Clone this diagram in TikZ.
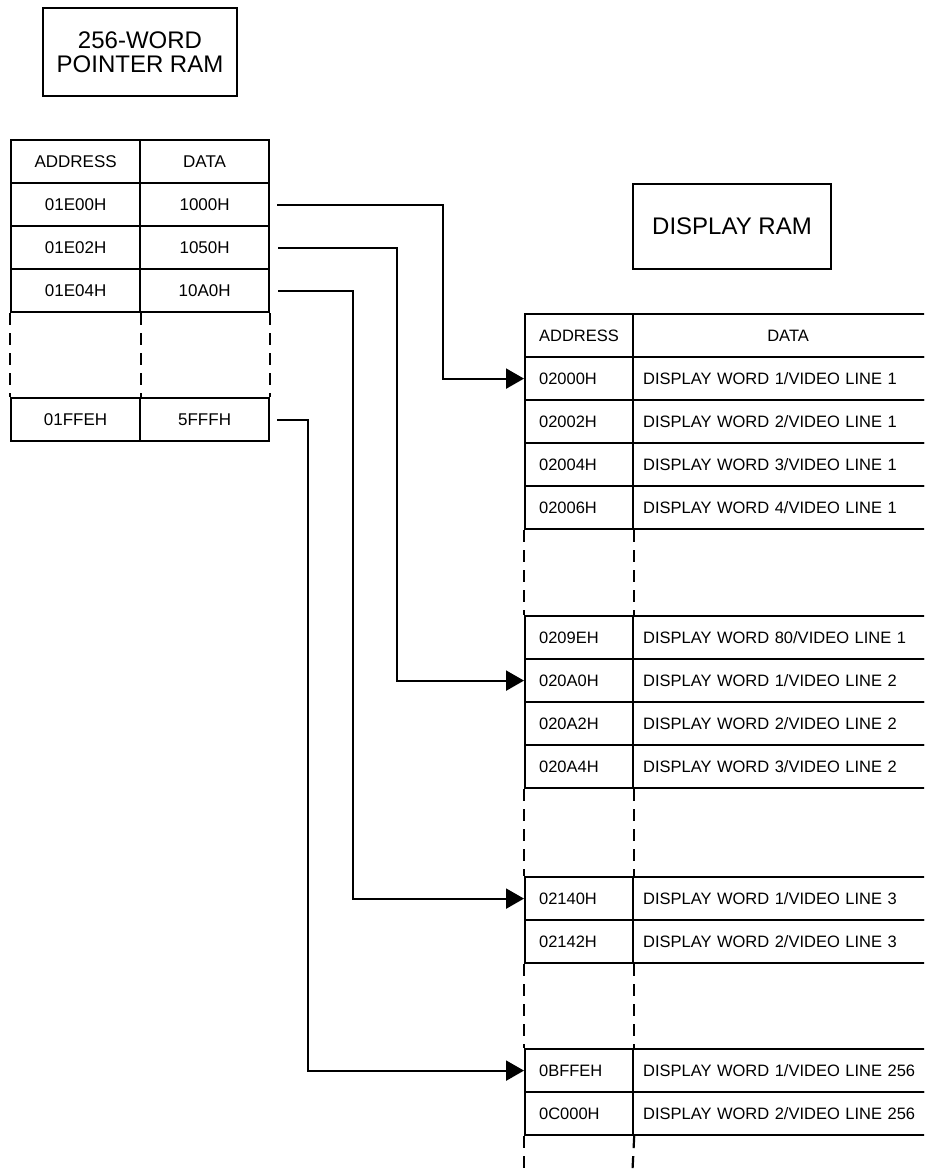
\documentclass[tikz,border=0pt]{standalone}
\usepackage{fontspec}
\setmainfont{Liberation Sans}
\usetikzlibrary{arrows.meta}
\begin{document}
\begin{tikzpicture}[x=1pt,y=-1pt,
  box/.style={draw, line width=2.2pt, inner sep=0pt},
  title/.style={box, align=center, font=\fontsize{24}{24}\selectfont},
  lcell/.style={box, anchor=north west, minimum width=129pt, minimum height=43pt, font=\fontsize{17}{18}\selectfont},
  acell/.style={box, anchor=north west, minimum height=43pt, inner xsep=14pt, text width=80pt, align=left, font=\fontsize{16.5}{18}\selectfont},
  dcell/.style={box, anchor=north west, minimum height=43pt, inner xsep=10pt, text width=300pt, align=left, font=\fontsize{16.5}{18}\selectfont},
  dhead/.style={box, anchor=north west, minimum height=43pt, inner xsep=10pt, text width=290pt, align=center, font=\fontsize{16.5}{18}\selectfont},
  gap/.style={line width=2.2pt, dash pattern=on 12pt off 8pt},
  conn/.style={line width=2.2pt, -{Triangle[length=18pt,width=20pt]}}
]
\useasboundingbox (0,0) rectangle (924,1173);
\clip (0,0) rectangle (924,1173);

% titles
\node[title, minimum width=194pt, minimum height=88pt] (t1) at (140,52) {256-WORD\\POINTER RAM};
\node[title, minimum width=198pt, minimum height=85pt] (t2) at (732,226.5) {DISPLAY RAM};

% pointer RAM table
\node[lcell] (L0a) at (10,139) {ADDRESS};
\node[lcell] (L0d) at (139,139) {DATA};
\node[lcell] (L1a) at (10,182) {01E00H};
\node[lcell] (L1d) at (139,182) {1000H};
\node[lcell] (L2a) at (10,225) {01E02H};
\node[lcell] (L2d) at (139,225) {1050H};
\node[lcell] (L3a) at (10,268) {01E04H};
\node[lcell] (L3d) at (139,268) {10A0H};
\node[lcell] (L4a) at (10,397) {01FFEH};
\node[lcell] (L4d) at (139,397) {5FFFH};
\draw[gap] (L3a.south west) -- (L4a.north west);
\draw[gap] (L3a.south east) -- (L4a.north east);
\draw[gap] (L3d.south east) -- (L4d.north east);

% display RAM table
\node[acell] (R0a) at (524,313) {ADDRESS};
\node[dhead] (R0d) at (632,313) {DATA};
\node[acell] (R1a) at (524,356) {02000H};
\node[dcell] (R1d) at (632,356) {DISPLAY WORD 1/VIDEO LINE 1};
\node[acell] (R2a) at (524,399) {02002H};
\node[dcell] (R2d) at (632,399) {DISPLAY WORD 2/VIDEO LINE 1};
\node[acell] (R3a) at (524,442) {02004H};
\node[dcell] (R3d) at (632,442) {DISPLAY WORD 3/VIDEO LINE 1};
\node[acell] (R4a) at (524,485) {02006H};
\node[dcell] (R4d) at (632,485) {DISPLAY WORD 4/VIDEO LINE 1};

\node[acell] (R5a) at (524,615) {0209EH};
\node[dcell] (R5d) at (632,615) {DISPLAY WORD 80/VIDEO LINE 1};
\node[acell] (R6a) at (524,658) {020A0H};
\node[dcell] (R6d) at (632,658) {DISPLAY WORD 1/VIDEO LINE 2};
\node[acell] (R7a) at (524,701) {020A2H};
\node[dcell] (R7d) at (632,701) {DISPLAY WORD 2/VIDEO LINE 2};
\node[acell] (R8a) at (524,744) {020A4H};
\node[dcell] (R8d) at (632,744) {DISPLAY WORD 3/VIDEO LINE 2};

\node[acell] (R9a) at (524,876) {02140H};
\node[dcell] (R9d) at (632,876) {DISPLAY WORD 1/VIDEO LINE 3};
\node[acell] (R10a) at (524,919) {02142H};
\node[dcell] (R10d) at (632,919) {DISPLAY WORD 2/VIDEO LINE 3};

\node[acell] (R11a) at (524,1048) {0BFFEH};
\node[dcell] (R11d) at (632,1048) {DISPLAY WORD 1/VIDEO LINE 256};
\node[acell] (R12a) at (524,1091) {0C000H};
\node[dcell] (R12d) at (632,1091) {DISPLAY WORD 2/VIDEO LINE 256};

\coordinate (endL) at (524,1180);
\coordinate (endR) at (632,1180);

\draw[gap] (R4a.south west) -- (R5a.north west);
\draw[gap] (R4a.south east) -- (R5a.north east);
\draw[gap] (R8a.south west) -- (R9a.north west);
\draw[gap] (R8a.south east) -- (R9a.north east);
\draw[gap] (R10a.south west) -- (R11a.north west);
\draw[gap] (R10a.south east) -- (R11a.north east);
\draw[gap] (R12a.south west) -- (endL);
\draw[gap] (R12a.south east) -- (endR);

% connectors
\draw[conn] ([xshift=7pt]L1d.east) -- ++(166,0) |- (R1a.west);
\draw[conn] ([xshift=8pt]L2d.east) -- ++(119,0) |- (R6a.west);
\draw[conn] ([xshift=8pt]L3d.east) -- ++(75,0) |- (R9a.west);
\draw[conn] ([xshift=7pt]L4d.east) -- ++(31,0) |- (R11a.west);
\end{tikzpicture}
\end{document}
